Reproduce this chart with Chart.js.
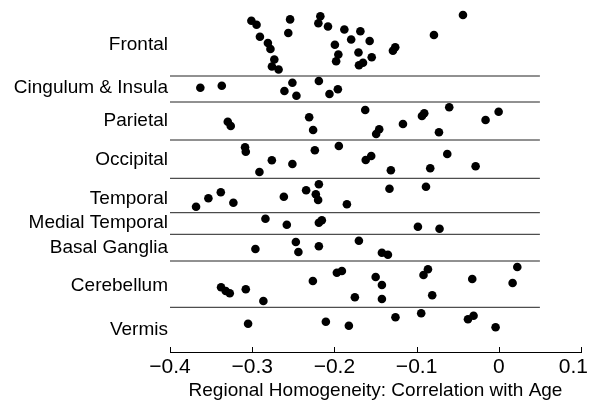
<!DOCTYPE html>
<html><head><meta charset="utf-8">
<script src="https://cdn.jsdelivr.net/npm/chart.js@4/dist/chart.umd.min.js"></script>
<style>html,body{margin:0;padding:0;background:#fff}</style>
</head><body>
<canvas id="c" width="589" height="407"></canvas>
<script>
// Region names (top to bottom) and their label positions on the vertical "row" scale
const regions = ["Frontal","Cingulum & Insula","Parietal","Occipital","Temporal","Medial Temporal","Basal Ganglia","Cerebellum","Vermis"];
const regionLabelPos = [3.5, 7.8, 11.05, 15.0, 18.9, 21.3, 23.8, 27.6, 32.0];
// Horizontal separators between regions (row scale)
const separators = [6.6, 9.2, 13.0, 16.83, 20.27, 22.43, 25.1, 29.73];
const xTicks = [-0.4, -0.3, -0.2, -0.1, 0, 0.1];

// Correlation with age (x) and jittered row position (y) for each region
const frontalX = [-0.301,-0.2947,-0.2906,-0.2809,-0.2778,-0.2731,-0.2760,-0.2679,-0.2539,-0.2561,-0.2171,-0.2195,-0.2078,-0.1879,-0.1684,-0.1796,-0.1571,-0.1994,-0.1952,-0.1979,-0.1707,-0.1546,-0.1701,-0.1652,-0.1288,-0.1260,-0.0789,-0.0436];
const frontalY = [1.07,1.48,2.67,3.30,3.90,4.95,5.65,5.95,0.94,2.30,0.62,1.32,1.65,1.95,2.13,2.95,3.10,3.48,4.45,5.12,4.25,4.73,5.53,5.28,4.07,3.73,2.50,0.50];
const cingulumX = [-0.3631,-0.3370,-0.2511,-0.2608,-0.2462,-0.2189,-0.2060,-0.1958];
const cingulumY = [7.77,7.57,7.27,8.10,8.57,7.10,8.40,7.93];
const parietalX = [-0.3297,-0.3261,-0.2307,-0.2259,-0.1625,-0.1492,-0.1455,-0.1166,-0.0935,-0.0907,-0.0603,-0.0728,-0.0161,-0.0002];
const parietalY = [11.17,11.60,10.73,12.00,10.00,12.40,11.93,11.40,10.60,10.33,9.73,12.23,11.00,10.17];
const occipitalX = [-0.3087,-0.3078,-0.2761,-0.2912,-0.2511,-0.2238,-0.1946,-0.1619,-0.1552,-0.1313,-0.0834,-0.0627,-0.0282];
const occipitalY = [13.73,14.17,15.03,16.20,15.40,14.03,13.60,15.00,14.60,16.03,15.83,14.40,15.63];
const temporalX = [-0.3683,-0.3533,-0.3382,-0.3229,-0.2615,-0.2344,-0.2189,-0.2226,-0.2198,-0.1848,-0.1330,-0.0886];
const temporalY = [19.67,18.83,18.23,19.27,18.67,18.03,17.43,18.43,19.00,19.43,17.87,17.67];
const medialTemporalX = [-0.2839,-0.2579,-0.2189,-0.2153,-0.0984,-0.0721];
const medialTemporalY = [20.87,21.47,21.27,21.03,21.67,21.87];
const basalGangliaX = [-0.2961,-0.2469,-0.2438,-0.2189,-0.1702,-0.1422,-0.1349];
const basalGangliaY = [23.90,23.20,24.20,23.63,23.07,24.27,24.47];
const cerebellumX = [-0.3379,-0.3322,-0.3273,-0.3078,-0.2864,-0.2262,-0.1970,-0.1909,-0.1751,-0.1498,-0.1422,-0.1422,-0.0916,-0.0862,-0.0810,-0.0323,0.0168,0.0225];
const cerebellumY = [27.73,28.10,28.33,27.93,29.10,27.10,26.27,26.10,28.73,26.70,27.50,28.90,26.50,25.93,28.53,26.90,27.30,25.70];
const vermisX = [-0.3050,-0.2104,-0.1824,-0.1257,-0.0944,-0.0375,-0.0307,-0.0039];
const vermisY = [31.37,31.17,31.57,30.73,30.33,30.93,30.57,31.73];

const seriesX = [frontalX,cingulumX,parietalX,occipitalX,temporalX,medialTemporalX,basalGangliaX,cerebellumX,vermisX];
const seriesY = [frontalY,cingulumY,parietalY,occipitalY,temporalY,medialTemporalY,basalGangliaY,cerebellumY,vermisY];

const FONT = "'Liberation Sans', Arial, Helvetica, sans-serif";
const fmt = v => (v < 0 ? "\u2212" : "") + (Math.abs(v) < 1e-9 ? "0" : String(Math.round(Math.abs(v)*10)/10));

const datasets = [];
separators.forEach(b => datasets.push({
  type: 'scatter', showLine: true, order: 2,
  data: [{x: -0.4, y: b}, {x: 0.05, y: b}],
  borderColor: '#222', borderWidth: 1, pointRadius: 0, fill: false
}));
regions.forEach((r, i) => datasets.push({
  type: 'scatter', label: r, order: 1,
  data: seriesX[i].map((x, j) => ({x, y: seriesY[i][j]})),
  pointRadius: 4.3, pointBackgroundColor: '#000', pointBorderWidth: 0, borderColor: '#000'
}));

// Inward (upward) tick marks and tick labels kept inside the canvas
const xAxisDecor = {
  id: 'xAxisDecor',
  afterDraw(chart) {
    const s = chart.scales.x, ctx = chart.ctx;
    ctx.save(); ctx.strokeStyle = '#000'; ctx.lineWidth = 1;
    ctx.font = "21px " + FONT; ctx.fillStyle = '#000';
    ctx.textBaseline = 'middle'; ctx.textAlign = 'left';
    xTicks.forEach(v => {
      const px = Math.round(s.getPixelForValue(v)) + 0.5;
      ctx.beginPath(); ctx.moveTo(px, s.top); ctx.lineTo(px, s.top - 5); ctx.stroke();
      const t = fmt(v), w = ctx.measureText(t).width;
      let lx = s.getPixelForValue(v) - w / 2;
      lx = Math.min(lx, chart.width - 1 - w);
      ctx.fillText(t, lx, s.top + 15);
    });
    ctx.restore();
  }
};

new Chart(document.getElementById('c'), {
  type: 'scatter',
  data: { datasets },
  plugins: [xAxisDecor],
  options: {
    responsive: false, animation: false, devicePixelRatio: 1,
    layout: { padding: { top: 10, right: 8, left: 0, bottom: 0 } },
    plugins: { legend: { display: false }, tooltip: { enabled: false } },
    scales: {
      x: {
        type: 'linear', min: -0.4, max: 0.1,
        afterBuildTicks: s => { s.ticks = xTicks.map(v => ({value: v})); },
        afterFit: s => { s.height = 55; s.paddingLeft = 0; s.paddingRight = 0; },
        grid: { display: false, drawTicks: false },
        border: { display: true, color: '#000', width: 1 },
        ticks: { display: false },
        title: { display: true, text: 'Regional Homogeneity: Correlation with Age', color: '#000', font: { family: FONT, size: 19 }, padding: { top: 0, bottom: 5 } }
      },
      y: {
        type: 'linear', min: 0, max: 34.2, reverse: true,
        afterBuildTicks: s => { s.ticks = regionLabelPos.map(v => ({value: v})); },
        afterFit: s => { s.width = 170; s.paddingTop = 0; s.paddingBottom = 0; },
        grid: { display: false, drawTicks: false },
        border: { display: false },
        ticks: { color: '#000', padding: 2, font: { family: FONT, size: 19 }, autoSkip: false,
          callback: (v, i) => regions[i] }
      }
    }
  }
});
</script>
</body></html>
